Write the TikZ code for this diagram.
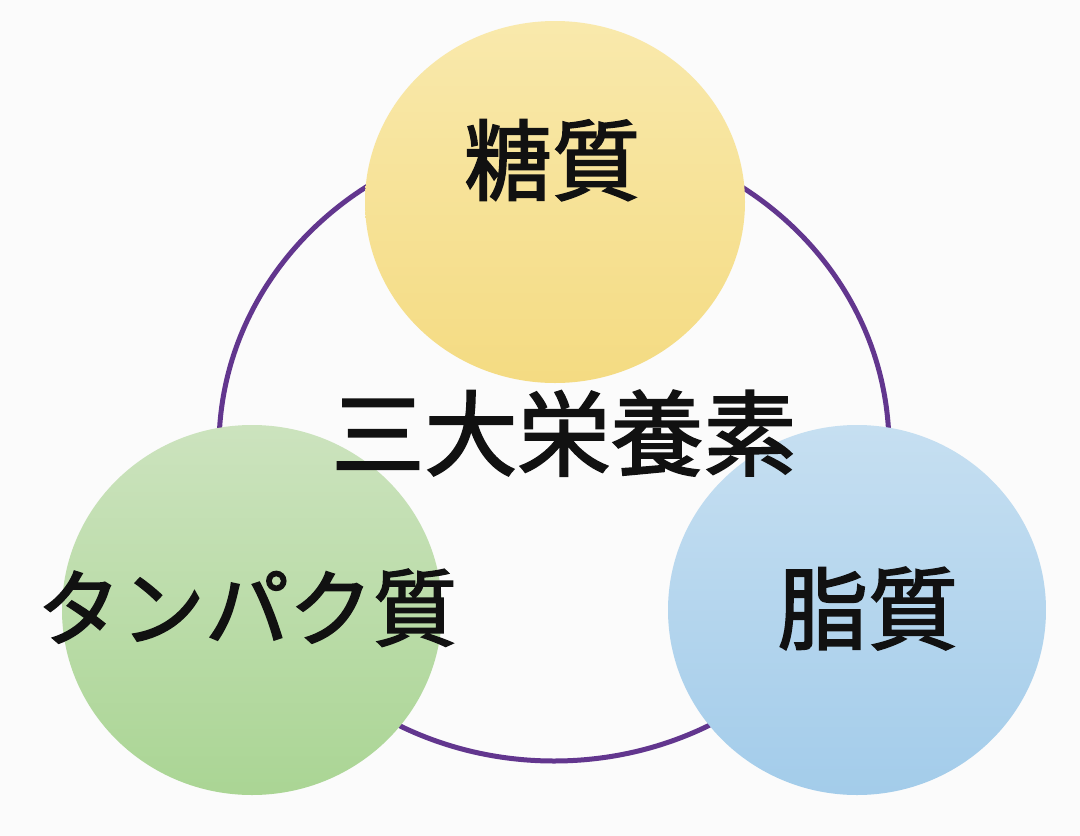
\documentclass[tikz,border=0pt]{standalone}
\usepackage{fontspec}
\usetikzlibrary{shapes.geometric}
\newfontfamily\jp[FakeBold=2]{Noto Sans CJK JP}
\definecolor{bgc}{RGB}{251,251,251}
\definecolor{ringc}{RGB}{98,54,142}
\definecolor{ytop}{RGB}{249,233,172}
\definecolor{ybot}{RGB}{244,219,130}
\definecolor{gtop}{RGB}{204,227,190}
\definecolor{gbot}{RGB}{170,213,148}
\definecolor{btop}{RGB}{198,223,241}
\definecolor{bbot}{RGB}{163,204,234}
\definecolor{txt}{RGB}{17,17,17}
\begin{document}
\begin{tikzpicture}[x=1pt,y=-1pt,
  blob/.style={ellipse,inner sep=0pt,minimum width=380pt,minimum height=370pt},
  lbl/.style={inner sep=0pt,text=txt,font=\jp\fontsize{88}{88}\selectfont,text height=0.8em,text depth=0.1em}]
\fill[bgc] (0,0) rectangle (1080,836);
\useasboundingbox (0,0) rectangle (1080,836);
\node[ellipse,draw=ringc,line width=5pt,inner sep=0pt,minimum width=670pt,minimum height=628pt] (ring) at (554,447) {};
\node[blob,minimum height=362pt,top color=ytop,bottom color=ybot] (sugar) at (555,202) {};
\node[blob,top color=gtop,bottom color=gbot] (protein) at (252,610) {};
\node[blob,minimum width=378pt,top color=btop,bottom color=bbot] (fat) at (857,610) {};
\node[lbl] (tsugar) at (552,190) {糖質};
\node[lbl,font=\jp\fontsize{93}{93}\selectfont] (tmain) at (564,465) {三大栄養素};
\node[lbl,font=\jp\fontsize{84}{84}\selectfont] (tprotein) at (247,636) {タンパク質};
\node[lbl,font=\jp\fontsize{90}{90}\selectfont] (tfat) at (868,639) {脂質};
\end{tikzpicture}
\end{document}
